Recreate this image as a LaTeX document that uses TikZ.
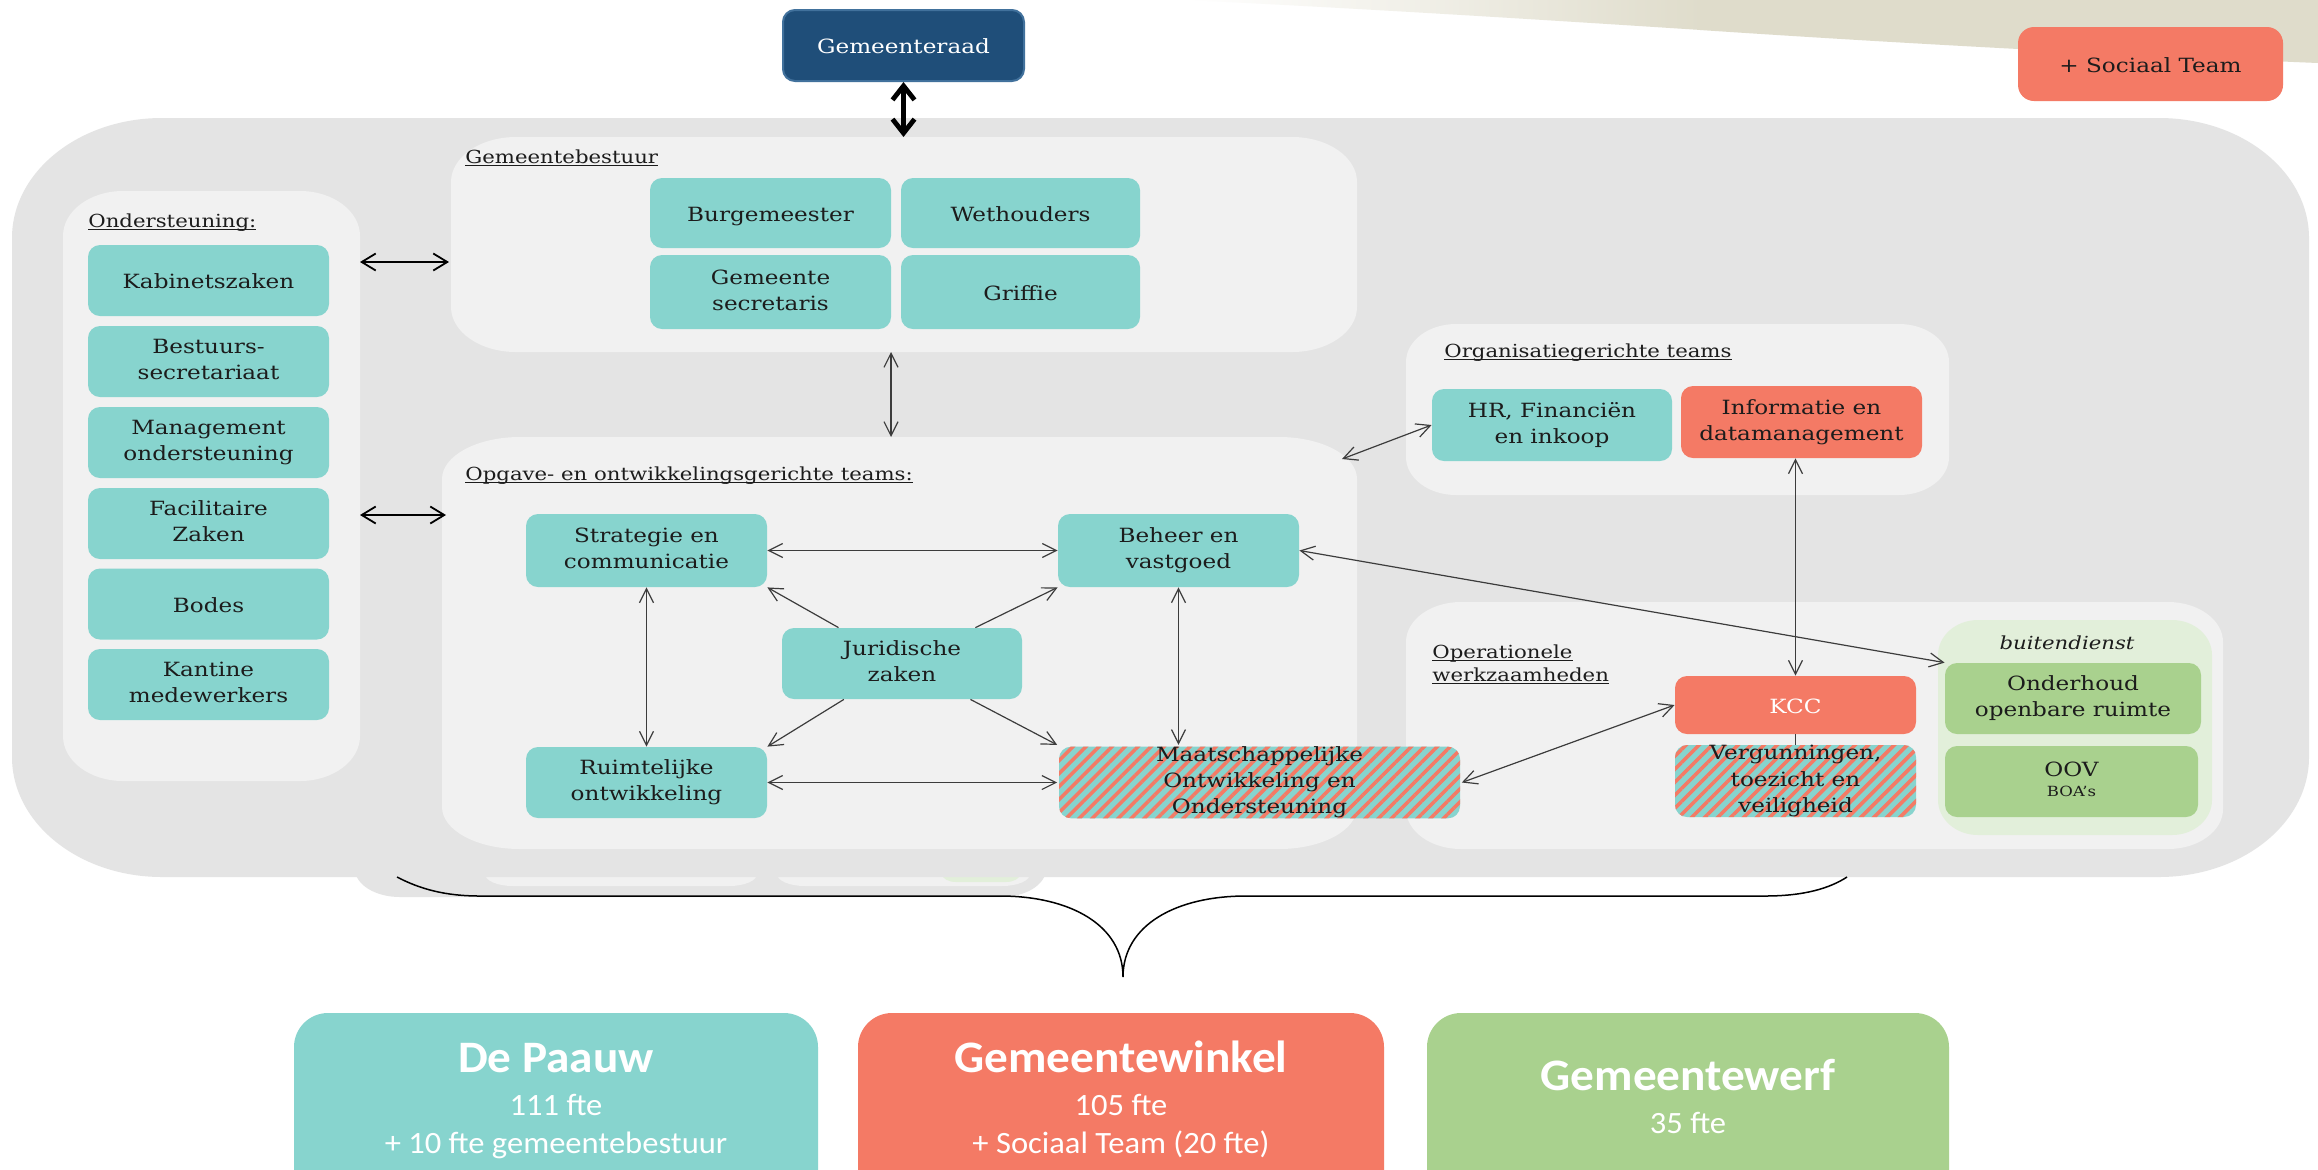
\documentclass[tikz,border=0pt]{standalone}
\usepackage{fontspec}
\usetikzlibrary{arrows.meta,patterns.meta}

% Typefaces
\newfontfamily\srf[FakeStretch=1.18]{DejaVu Serif}
\newfontfamily\snf[FakeStretch=1.05]{Carlito}

% Palette
\definecolor{cTeal}{HTML}{87D4CE}
\definecolor{cSal}{HTML}{F47A65}
\definecolor{cGrn}{HTML}{A9D18E}
\definecolor{cLgrn}{HTML}{E2EFDA}
\definecolor{cGray}{HTML}{E4E4E4}
\definecolor{cPanel}{HTML}{F1F1F1}
\definecolor{cNavy}{HTML}{1F4E79}
\definecolor{cNavyEdge}{HTML}{41719C}
\definecolor{cBeige}{HTML}{DFDCCB}
\definecolor{cInk}{HTML}{1C1C1C}
\definecolor{cLink}{HTML}{3C3C3C}

\newcommand{\boxfont}{\srf\fontsize{9.8pt}{13.1pt}\selectfont}
\newcommand{\lblfont}{\srf\fontsize{9pt}{11.5pt}\selectfont}
% underline that runs through the descenders
\newcommand{\lblline}[1]{\sbox0{#1}\rlap{\rule[-1.7pt]{\wd0}{0.55pt}}\usebox0}

% Panel with elliptical corners: fill, x1, y1, x2, y2, rx, ry
\newcommand{\epanel}[7]{%
  \pgfmathsetmacro{\pxa}{#2+#6}%
  \pgfmathsetmacro{\pxb}{#4-#6}%
  \pgfmathsetmacro{\pxc}{#4-0.4477*#6}%
  \pgfmathsetmacro{\pxd}{#2+0.4477*#6}%
  \pgfmathsetmacro{\pya}{#3+#7}%
  \pgfmathsetmacro{\pyb}{#5-#7}%
  \pgfmathsetmacro{\pyc}{#3+0.4477*#7}%
  \pgfmathsetmacro{\pyd}{#5-0.4477*#7}%
  \fill[#1] (\pxa,#3) -- (\pxb,#3) .. controls (\pxc,#3) and (#4,\pyc) .. (#4,\pya)
    -- (#4,\pyb) .. controls (#4,\pyd) and (\pxc,#5) .. (\pxb,#5)
    -- (\pxa,#5) .. controls (\pxd,#5) and (#2,\pyd) .. (#2,\pyb)
    -- (#2,\pya) .. controls (#2,\pyc) and (\pxd,#3) .. (\pxa,#3) -- cycle;%
}

\begin{document}
\begin{tikzpicture}[x=0.5pt,y=-0.5pt,
  box/.style={rounded corners=6pt, inner sep=0pt, align=center, font=\boxfont,
    text=cInk, minimum width=120.5pt, minimum height=35.5pt,
    execute at begin node={\rule{0pt}{10.5pt}}, execute at end node={\vphantom{Ag}}},
  tealbox/.style={box, fill=cTeal},
  salbox/.style={box, fill=cSal},
  grnbox/.style={box, fill=cGrn},
  navybox/.style={box, fill=cNavy, draw=cNavyEdge, line width=1pt, text=white},
  hatchbox/.style={box, preaction={fill=cTeal},
    pattern={Lines[angle=45,distance=4.6pt,line width=1.8pt]}, pattern color=cSal},
  lbl/.style={inner sep=0pt, font=\lblfont, text=cInk},
  link/.style={draw=cLink, line width=0.6pt,
    {Straight Barb[length=7pt,width=7pt]}-{Straight Barb[length=7pt,width=7pt]}},
  link1/.style={draw=cLink, line width=0.6pt, -{Straight Barb[length=7pt,width=7pt]}},
  boldlink/.style={draw=black, line width=0.9pt,
    {Straight Barb[length=7pt,width=8.5pt]}-{Straight Barb[length=7pt,width=8.5pt]}},
  raadlink/.style={draw=black, line width=2.4pt,
    {Straight Barb[length=7pt,width=11pt]}-{Straight Barb[length=7pt,width=11pt]}},
  brace/.style={draw=black, line width=0.75pt},
  bottombox/.style={rounded corners=17pt, inner sep=0pt, minimum height=120pt},
  btitle/.style={inner sep=0pt, text=white, font=\snf\bfseries\fontsize{22.5pt}{27pt}\selectfont},
  bsub/.style={inner sep=0pt, text=white, font=\snf\fontsize{15.5pt}{19pt}\selectfont}
]
\useasboundingbox (0,0) rectangle (2318,1169);
\fill[white] (0,0) rectangle (2318,1169);

% banner in the top right corner: solid part and its fading left end
\fill[cBeige] (1700,0) -- (2318,0) -- (2318,63) .. controls (2050,52) and (1850,40) .. (1700,30) -- cycle;
\shade[left color=white, right color=cBeige]
  (1187,0) -- (1701,0) -- (1701,30) .. controls (1500,17) and (1350,8) .. (1187,0) -- cycle;

% second sheet lying behind the main one
\epanel{cGray}{355}{700}{1046}{897}{45}{28}
\epanel{cPanel}{485}{700}{757}{886}{28}{12}
\epanel{cPanel}{777}{700}{1030}{886}{28}{12}
\epanel{cLgrn}{942}{700}{1020}{882}{14}{8}

% main sheet and its panels
\epanel{cGray}{12}{118}{2309}{877}{150}{120}
\epanel{cPanel}{63}{191}{360}{781}{60}{45}
\epanel{cPanel}{451}{137}{1357}{352}{65}{45}
\epanel{cPanel}{442}{437}{1357}{849}{78}{42}
\epanel{cPanel}{1406}{324}{1949}{495}{50}{38}
\epanel{cPanel}{1406}{602}{2223}{849}{55}{40}
\epanel{cLgrn}{1938}{620}{2212}{835}{40}{35}

% brace gathering the organisation
\coordinate (brL) at (397,877);
\coordinate (brT) at (1123,977);
\coordinate (brR) at (1847,877);
\draw[brace] (brL) .. controls (420,889) and (445,896) .. (480,896) -- (1000,896)
  .. controls (1070,896) and (1123,925) .. (brT)
  .. controls (1123,925) and (1176,896) .. (1246,896) -- (1765,896)
  .. controls (1805,896) and (1830,888) .. (brR);

% top
\node[navybox] (raad) at (903.5,45.5) {Gemeenteraad};
\node[salbox, minimum width=132.5pt, minimum height=37pt, rounded corners=8pt] (soc) at (2150.5,64) {+ Sociaal Team};

% Ondersteuning
\node[lbl, anchor=base west] (tOnd) at (88,227) {\lblline{Ondersteuning:}};
\node[tealbox] (kab) at (208.5,280.5) {Kabinetszaken};
\node[tealbox] (bes) at (208.5,361.5) {Bestuurs-\\secretariaat};
\node[tealbox] (man) at (208.5,442.5) {Management\\ondersteuning};
\node[tealbox] (fac) at (208.5,523.5) {Facilitaire\\Zaken};
\node[tealbox] (bod) at (208.5,604) {Bodes};
\node[tealbox] (kan) at (208.5,684.5) {Kantine\\medewerkers};

% Gemeentebestuur
\node[lbl, anchor=base west] (tGB) at (465,163) {\lblline{Gemeentebestuur}};
\node[tealbox, minimum height=35pt] (burg) at (770.5,213) {Burgemeester};
\node[tealbox, minimum width=119.5pt, minimum height=35pt] (weth) at (1020.5,213) {Wethouders};
\node[tealbox, minimum height=37pt] (gsec) at (770.5,292) {Gemeente\\secretaris};
\node[tealbox, minimum width=119.5pt, minimum height=37pt] (grif) at (1020.5,292) {Griffie};

% Opgave- en ontwikkelingsgerichte teams
\node[lbl, anchor=base west] (tOpg) at (465,480) {\lblline{Opgave- en ontwikkelingsgerichte teams:}};
\node[tealbox, minimum height=36.5pt] (strat) at (646.5,550.5) {Strategie en\\communicatie};
\node[tealbox, minimum height=36.5pt] (beh) at (1178.5,550.5) {Beheer en\\vastgoed};
\node[tealbox, minimum width=120pt] (jur) at (902,663.5) {Juridische\\zaken};
\node[tealbox] (ruim) at (646.5,782.5) {Ruimtelijke\\ontwikkeling};
\node[hatchbox, minimum width=200.5pt] (maat) at (1259.5,782.5) {Maatschappelijke\\Ontwikkeling en\\Ondersteuning};

% Organisatiegerichte teams
\node[lbl, anchor=base west] (tOrg) at (1444,357) {\lblline{Organisatiegerichte teams}};
\node[tealbox, minimum width=120pt, minimum height=36pt] (hr) at (1552,425) {HR, Financiën\\en inkoop};
\node[salbox, minimum height=36pt] (info) at (1801.5,422) {Informatie en\\datamanagement};

% Operationele werkzaamheden
\node[lbl, anchor=base west] (tOp1) at (1432,658) {\lblline{Operationele}};
\node[lbl, anchor=base west] (tOp2) at (1432,681) {\lblline{werkzaamheden}};
\node[salbox, minimum height=29pt, text=white] (kcc) at (1795.5,705) {KCC};
\node[hatchbox, minimum height=36pt] (verg) at (1795.5,781) {Vergunningen,\\toezicht en\\veiligheid};
\node[lbl, anchor=base, font=\lblfont\itshape] (tBui) at (2067,649) {buitendienst};
\node[grnbox, minimum width=128pt] (ohd) at (2073,698.5) {Onderhoud\\openbare ruimte};
\node[grnbox, minimum width=126.5pt] (oov) at (2071.5,781.5) {OOV\\[-3pt]{\fontsize{7pt}{8pt}\selectfont BOA’s}};

% connectors
\coordinate (gbTop) at (903.5,137);
\coordinate (ondA) at (360,262);
\coordinate (gbA) at (449,262);
\coordinate (ondB) at (360,515);
\coordinate (opgA) at (446,515);
\coordinate (gbBot) at (891,352);
\coordinate (opgTop) at (891,437);
\coordinate (opgCorner) at (1342,459);

\draw[raadlink] (raad.south) -- (gbTop);
\draw[boldlink] (ondA) -- (gbA);
\draw[boldlink] (ondB) -- (opgA);
\draw[link] (gbBot) -- (opgTop);
\draw[link] (strat.east) -- (beh.west);
\draw[link] (ruim.east) -- (maat.west);
\draw[link] (strat.south) -- (ruim.north);
\draw[link] (beh.south) -- (beh.south |- maat.north);
\draw[link1] (jur) -- (strat.south east);
\draw[link1] (jur) -- (beh.south west);
\draw[link1] (jur) -- (ruim.north east);
\draw[link1] (jur) -- (maat.north west);
\draw[link] (opgCorner) -- (hr.west);
\draw[link] (kcc.north |- info.south) -- (kcc.north);
\draw[link] (beh.east) -- (ohd.north west);
\draw[link] (maat.east) -- (kcc.west);
\draw[draw=cLink, line width=0.6pt] (kcc.south) -- (verg.north);

% the three organisations
\node[bottombox, fill=cTeal, minimum width=262pt] (bPaauw) at (556,1133) {};
\node[bottombox, fill=cSal, minimum width=263pt] (bWinkel) at (1121,1133) {};
\node[bottombox, fill=cGrn, minimum width=261pt] (bWerf) at (1688,1133) {};

\node[btitle, anchor=base] (tPaauw) at (556,1072) {De Paauw};
\node[bsub, anchor=base] (tP1) at (556,1115) {111 fte};
\node[bsub, anchor=base] (tP2) at (556,1153) {+ 10 fte gemeentebestuur};
\node[btitle, anchor=base] (tWinkel) at (1121,1072) {Gemeentewinkel};
\node[bsub, anchor=base] (tW1) at (1121,1115) {105 fte};
\node[bsub, anchor=base] (tW2) at (1121,1153) {+ Sociaal Team (20 fte)};
\node[btitle, anchor=base] (tWerf) at (1688,1090) {Gemeentewerf};
\node[bsub, anchor=base] (tF1) at (1688,1133) {35 fte};
\end{tikzpicture}
\end{document}
